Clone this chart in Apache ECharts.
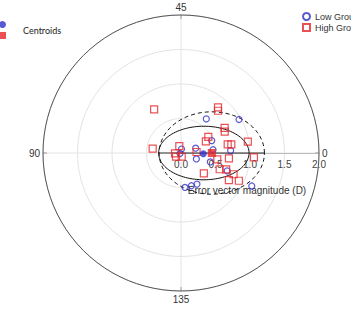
<!DOCTYPE html>
<html>
<head>
<meta charset="utf-8">
<script src="https://cdn.jsdelivr.net/npm/echarts@6/dist/echarts.min.js"></script>
<style>
  html, body { margin: 0; padding: 0; background: #fff; }
  #chart { width: 351px; height: 311px; }
</style>
</head>
<body>
<div id="chart"></div>
<script>
// [radius, angle] pairs, angle axis runs 0..180 round the full circle
var lowGroup = [
  [0.615, 26.7], [0.971, 15.0], [0.481, 11.0], [0.058, 41.4], [0.224, 9.0],
  [0.467, 2.9], [0.720, 1.4], [0.016, 103.3], [0.239, 169.4], [0.444, 171.5],
  [0.718, 169.4], [0.506, 148.6], [0.498, 143.8], [0.503, 138.3], [1.132, 167.5]
];
var highGroup = [
  [0.743, 60.8], [0.852, 25.5], [0.814, 24.4], [0.730, 15.0], [0.705, 13.0],
  [0.460, 15.3], [0.398, 12.6], [0.688, 5.2], [0.740, 4.9], [0.982, 4.8],
  [0.415, 85.7], [0.104, 51.8], [0.087, 91.4], [0.090, 108.3], [0.054, 140.4],
  [0.226, 1.8], [0.534, 175.0], [0.699, 176.8], [1.059, 178.3], [0.443, 159.2],
  [0.608, 168.6], [0.696, 170.0], [0.822, 169.0], [0.798, 165.2], [0.930, 167.2]
];
var centroidLow = [[0.324, 179.1]];
var centroidHigh = [[0.446, 0]];
// ellipses: centre radius (on the 0 direction), half width, half height, dashed
var ellipses = [
  [0.331, 0.655, 0.388, 0],
  [0.446, 0.763, 0.597, 1]
];
var radiusTicks = [0, 0.5, 1.0, 1.5, 2.0];
var angleTicks = [0, 45, 90, 135];

var blue = '#2f2fc8';
var red = '#e3262b';

var chart = echarts.init(document.getElementById('chart'), null, { renderer: 'svg' });

function toPolar(x, y) {
  var r = Math.sqrt(x * x + y * y);
  var a = Math.atan2(y, x) * 180 / Math.PI;
  if (a < 0) a += 360;
  return [r, a / 2];
}

chart.setOption({
  animation: false,
  backgroundColor: '#fff',
  textStyle: { fontFamily: 'Liberation Sans, Arial, sans-serif' },
  polar: { center: [181, 153], radius: 138 },
  angleAxis: {
    type: 'value',
    min: 0,
    max: 180,
    interval: 45,
    startAngle: 0,
    clockwise: false,
    axisLine: { lineStyle: { color: '#555', width: 1 } },
    axisTick: { show: true, inside: true, length: 4, lineStyle: { color: '#555' } },
    axisLabel: {
      color: '#333', fontSize: 10, margin: 3,
      formatter: function(v) { return angleTicks.indexOf(v) !== -1 ? String(v) : ''; }
    },
    splitLine: { show: true, lineStyle: { color: '#e4e4e4', width: 1 } }
  },
  radiusAxis: {
    type: 'value',
    min: radiusTicks[0],
    max: radiusTicks[radiusTicks.length - 1],
    interval: 0.5,
    name: 'Error vector magnitude (D)',
    nameLocation: 'middle',
    nameGap: 32,
    nameTextStyle: { color: '#333', fontSize: 10, padding: [0, 6, 0, 0] },
    axisLine: { show: true, lineStyle: { color: '#bbb', width: 1 } },
    axisTick: { show: false },
    axisLabel: {
      color: '#444', fontSize: 10, margin: -16,
      formatter: function(v) { return v.toFixed(1); }
    },
    splitLine: { show: true, lineStyle: { color: '#e4e4e4', width: 1 } }
  },
  legend: [{
    data: ['Low Group', 'High Group'],
    orient: 'vertical',
    left: 302,
    top: 12,
    padding: 0,
    itemWidth: 7,
    itemHeight: 7,
    itemGap: 2,
    textStyle: { color: '#333', fontSize: 9 }
  }, {
    data: ['Centroid Low', 'Centroid High'],
    orient: 'vertical',
    left: -1,
    top: 21,
    padding: 0,
    itemWidth: 7,
    itemHeight: 7,
    itemGap: 4,
    formatter: function() { return ''; }
  }],
  graphic: [{
    type: 'text',
    left: 23,
    top: 26,
    style: { text: 'Centroids', fill: '#222', fontSize: 9, fontFamily: 'Lato, sans-serif' }
  }],
  series: [{
    name: 'ellipses',
    type: 'custom',
    coordinateSystem: 'polar',
    silent: true,
    z: 1,
    data: ellipses.map(function(e, i) { return [i]; }),
    renderItem: function(params, api) {
      var e = ellipses[params.dataIndex];
      var pts = [];
      for (var k = 0; k <= 120; k++) {
        var t = k / 120 * Math.PI * 2;
        pts.push(api.coord(toPolar(e[0] + e[1] * Math.cos(t), e[2] * Math.sin(t))));
      }
      var children = [{
        type: 'polyline',
        shape: { points: pts },
        style: { fill: 'none', stroke: '#111', lineWidth: 1, lineDash: e[3] ? [4, 3] : null }
      }];
      if (e[3]) {
        children.push({
          type: 'line',
          shape: {
            x1: api.coord(toPolar(e[0] - e[1], 0))[0], y1: api.coord([0, 0])[1],
            x2: api.coord(toPolar(e[0] + e[1], 0))[0], y2: api.coord([0, 0])[1]
          },
          style: { stroke: '#333', lineWidth: 1 }
        });
      }
      return { type: 'group', children: children };
    }
  }, {
    name: 'Low Group',
    type: 'scatter',
    coordinateSystem: 'polar',
    symbol: 'circle',
    symbolSize: 6,
    z: 3,
    itemStyle: { color: 'rgba(255,255,255,0)', borderColor: blue, borderWidth: 1.2 },
    data: lowGroup
  }, {
    name: 'High Group',
    type: 'scatter',
    coordinateSystem: 'polar',
    symbol: 'rect',
    symbolSize: 7,
    z: 3,
    itemStyle: { color: 'rgba(255,255,255,0)', borderColor: red, borderWidth: 1.2 },
    data: highGroup
  }, {
    name: 'Centroid Low',
    type: 'scatter',
    coordinateSystem: 'polar',
    symbol: 'circle',
    symbolSize: 7,
    z: 4,
    itemStyle: { color: blue },
    data: centroidLow
  }, {
    name: 'Centroid High',
    type: 'scatter',
    coordinateSystem: 'polar',
    symbol: 'rect',
    symbolSize: 8,
    z: 4,
    itemStyle: { color: red },
    data: centroidHigh
  }]
});

window.addEventListener('resize', function() { chart.resize(); });
</script>
</body>
</html>
